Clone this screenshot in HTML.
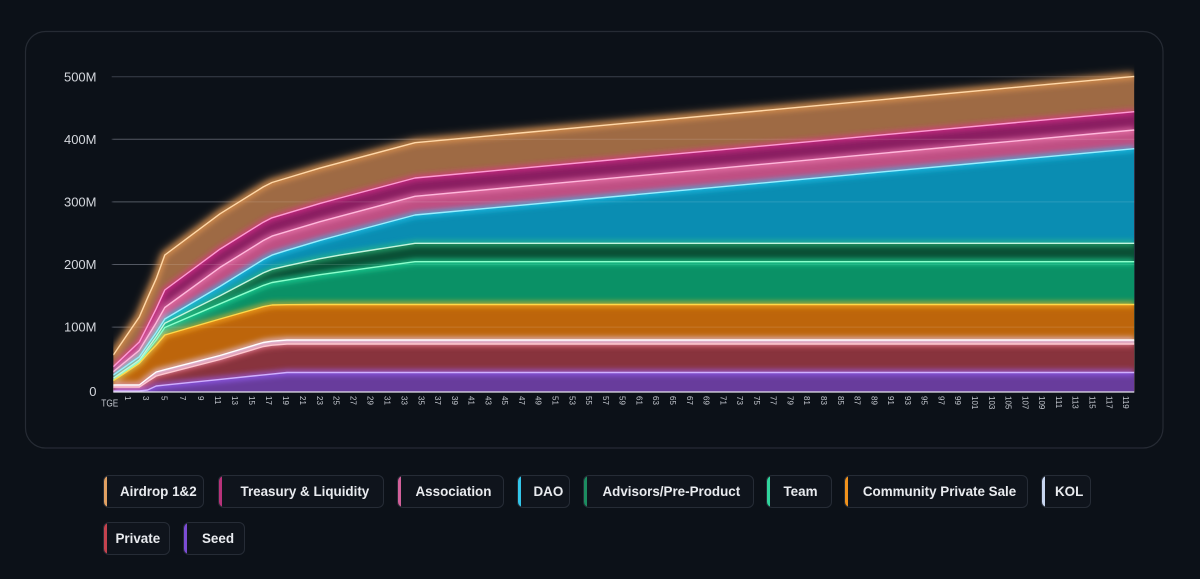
<!DOCTYPE html>
<html>
<head>
<meta charset="utf-8">
<style>
  html,body{margin:0;padding:0;}
  body{width:1200px;height:579px;background:#0c1118;position:relative;overflow:hidden;font-family:"Liberation Sans",Arial,sans-serif;}
  .chip{position:absolute;height:33px;box-sizing:border-box;border:1px solid #262c36;border-radius:6px;background:#0f141c;overflow:hidden;}
  .chip .bar{position:absolute;left:0;top:0;bottom:0;width:3px;}
  .chip span{position:absolute;top:0;line-height:31px;font-size:13.4px;font-weight:bold;color:#e9ebef;white-space:nowrap;}
</style>
</head>
<body>
<svg width="1200" height="579" viewBox="0 0 1200 579" style="position:absolute;left:0;top:0" xmlns="http://www.w3.org/2000/svg">
  <defs>
    <filter id="glow" filterUnits="userSpaceOnUse" x="0" y="0" width="1200" height="579">
      <feGaussianBlur stdDeviation="3"/>
    </filter>
    <filter id="glow2" filterUnits="userSpaceOnUse" x="0" y="0" width="1200" height="579">
      <feGaussianBlur stdDeviation="4.5"/>
    </filter>
    <clipPath id="clip"><rect x="113.3" y="30" width="1021" height="362"/></clipPath>
  </defs>

  <!-- frame -->
  <rect x="25.5" y="31.5" width="1137.5" height="416.5" rx="20" ry="20" fill="#0c1118" stroke="#262b34" stroke-width="1.2"/>

  <!-- y labels -->
  <g font-family="Liberation Sans, Arial, sans-serif" font-size="13" fill="#d4d7dd" text-anchor="end">
    <text x="96.5" y="81.3">500M</text>
    <text x="96.5" y="143.9">400M</text>
    <text x="96.5" y="206.5">300M</text>
    <text x="96.5" y="269.1">200M</text>
    <text x="96.5" y="331.7">100M</text>
    <text x="96.5" y="396">0</text>
  </g>

  <!-- gridlines under -->
  <g stroke="#3a404b" stroke-width="1">
    <line x1="111.7" y1="76.7" x2="1134.3" y2="76.7"/>
    <line x1="111.7" y1="139.3" x2="1134.3" y2="139.3"/>
    <line x1="111.7" y1="201.9" x2="1134.3" y2="201.9"/>
    <line x1="111.7" y1="264.5" x2="1134.3" y2="264.5"/>
    <line x1="111.7" y1="327.1" x2="1134.3" y2="327.1"/>
  </g>

  <!-- outer glow of top -->
  <g clip-path="url(#clip)">
    <polyline filter="url(#glow2)" fill="none" stroke="#e8a060" stroke-opacity="0.75" stroke-width="7" points="113.3,355 139.3,317 147.6,297.8 156.2,278.7 164.8,255 220,213.8 263.3,186.9 272,182.5 287,178 320,168.1 340,162.7 415,142.7 1134.3,76.4"/>
  </g>

  <g clip-path="url(#clip)">
    <!-- Airdrop -->
    <polygon fill="#9e6a44" points="113.3,355 139.3,317 147.6,297.8 156.2,278.7 164.8,255 220,213.8 263.3,186.9 272,182.5 287,178 320,168.1 340,162.7 415,142.7 1134.3,76.4 1134.3,391.5 113.3,391.5"/>
    <!-- Treasury -->
    <polygon fill="#8a1e61" points="113.3,366.7 139.3,342 147.6,325.8 156.2,308.7 164.8,290 220,249.1 263.3,222.2 272,217.8 287,213.3 320,203.4 340,198 415,178 1134.3,111.7 1134.3,391.5 113.3,391.5"/>
    <!-- Association -->
    <polygon fill="#bf4f83" points="113.3,371.7 139.3,350.3 147.6,336.8 156.2,322.7 164.8,307.5 220,267.4 263.3,240.5 272,236.1 287,231.6 320,221.7 340,216.3 415,196.3 1134.3,130 1134.3,391.5 113.3,391.5"/>
    <!-- DAO -->
    <polygon fill="#0a8db2" points="113.3,375 139.3,356.8 147.6,344.8 156.2,332.5 164.8,319 220,286.4 263.3,259.5 272,255.1 287,250.3 320,240.4 340,235 415,215 1134.3,148.7 1134.3,391.5 113.3,391.5"/>
    <!-- Advisors -->
    <polygon fill="#0a4f35" points="113.3,378.3 139.3,360.1 147.6,348.5 156.2,336.5 164.8,323.3 220,295.8 263.3,272.9 272,269.3 287,265.8 320,258.7 340,255.1 415,243.3 1134.3,243.3 1134.3,391.5 113.3,391.5"/>
    <!-- Team -->
    <polygon fill="#0a9166" points="113.3,380 139.3,361.7 147.6,351 156.2,340 164.8,327.5 220,303.8 263.3,285.4 272,282.5 287,280.1 320,274.7 340,271.9 415,261.7 1134.3,261.7 1134.3,391.5 113.3,391.5"/>
    <!-- CPS -->
    <polygon fill="#bd650b" points="113.3,380.7 139.3,363.3 147.6,354 156.2,345 164.8,335 220,319 263.3,306.7 272,305 287,304.7 320,304.5 340,304.5 415,304.5 1134.3,304.5 1134.3,391.5 113.3,391.5"/>
    <!-- KOL -->
    <polygon fill="#d6c2d2" points="113.3,385 139.3,385 147.6,378.5 156.2,372 164.8,369.7 220,355.5 263.3,342.5 272,341.2 287,340 320,340 340,340 415,340 1134.3,340 1134.3,391.5 113.3,391.5"/>
    <!-- Private -->
    <polygon fill="#88333d" points="113.3,387 139.3,387 147.6,381.5 156.2,376 164.8,373.7 220,359.5 263.3,346.5 272,345.2 287,344 320,344 340,344 415,344 1134.3,344 1134.3,391.5 113.3,391.5"/>
    <!-- Seed -->
    <polygon fill="#683c9c" points="113.3,391 139.3,391 147.6,390 156.2,386 164.8,385.1 220,379.4 263.3,374.9 272,374.1 287,372.5 320,372.5 340,372.5 415,372.5 1134.3,372.5 1134.3,391.5 113.3,391.5"/>

    <!-- gridlines through areas -->
    <g stroke="#ffffff" stroke-opacity="0.13" stroke-width="1">
      <line x1="111.7" y1="139.3" x2="1134.3" y2="139.3"/>
      <line x1="111.7" y1="201.9" x2="1134.3" y2="201.9"/>
      <line x1="111.7" y1="264.5" x2="1134.3" y2="264.5"/>
      <line x1="111.7" y1="327.1" x2="1134.3" y2="327.1"/>
    </g>

    <!-- glows -->
    <g filter="url(#glow)" fill="none" stroke-width="5" stroke-opacity="0.8" stroke-linejoin="round">
      <polyline stroke="#e89a50" points="113.3,355 139.3,317 147.6,297.8 156.2,278.7 164.8,255 220,213.8 263.3,186.9 272,182.5 287,178 320,168.1 340,162.7 415,142.7 1134.3,76.4"/>
      <polyline stroke="#e0308e" points="113.3,366.7 139.3,342 147.6,325.8 156.2,308.7 164.8,290 220,249.1 263.3,222.2 272,217.8 287,213.3 320,203.4 340,198 415,178 1134.3,111.7"/>
      <polyline stroke="#f07ab0" points="113.3,371.7 139.3,350.3 147.6,336.8 156.2,322.7 164.8,307.5 220,267.4 263.3,240.5 272,236.1 287,231.6 320,221.7 340,216.3 415,196.3 1134.3,130"/>
      <polyline stroke="#20c8f0" points="113.3,375 139.3,356.8 147.6,344.8 156.2,332.5 164.8,319 220,286.4 263.3,259.5 272,255.1 287,250.3 320,240.4 340,235 415,215 1134.3,148.7"/>
      <polyline stroke="#30c080" points="113.3,378.3 139.3,360.1 147.6,348.5 156.2,336.5 164.8,323.3 220,295.8 263.3,272.9 272,269.3 287,265.8 320,258.7 340,255.1 415,243.3 1134.3,243.3"/>
      <polyline stroke="#20e0a0" points="113.3,380 139.3,361.7 147.6,351 156.2,340 164.8,327.5 220,303.8 263.3,285.4 272,282.5 287,280.1 320,274.7 340,271.9 415,261.7 1134.3,261.7"/>
      <polyline stroke="#ffb020" points="113.3,380.7 139.3,363.3 147.6,354 156.2,345 164.8,335 220,319 263.3,306.7 272,305 287,304.7 320,304.5 340,304.5 415,304.5 1134.3,304.5"/>
      <polyline stroke="#e8d8ff" points="113.3,385 139.3,385 147.6,378.5 156.2,372 164.8,369.7 220,355.5 263.3,342.5 272,341.2 287,340 320,340 340,340 415,340 1134.3,340"/>
      <polyline stroke="#e06070" points="113.3,387 139.3,387 147.6,381.5 156.2,376 164.8,373.7 220,359.5 263.3,346.5 272,345.2 287,344 320,344 340,344 415,344 1134.3,344"/>
      <polyline stroke="#9a60ff" points="113.3,391 139.3,391 147.6,390 156.2,386 164.8,385.1 220,379.4 263.3,374.9 272,374.1 287,372.5 320,372.5 340,372.5 415,372.5 1134.3,372.5"/>
    </g>

    <!-- thin lines -->
    <g fill="none" stroke-width="1.4" stroke-linejoin="round">
      <polyline stroke="#ffd8a8" points="113.3,355 139.3,317 147.6,297.8 156.2,278.7 164.8,255 220,213.8 263.3,186.9 272,182.5 287,178 320,168.1 340,162.7 415,142.7 1134.3,76.4"/>
      <polyline stroke="#ff9ad4" points="113.3,366.7 139.3,342 147.6,325.8 156.2,308.7 164.8,290 220,249.1 263.3,222.2 272,217.8 287,213.3 320,203.4 340,198 415,178 1134.3,111.7"/>
      <polyline stroke="#ffb8dc" points="113.3,371.7 139.3,350.3 147.6,336.8 156.2,322.7 164.8,307.5 220,267.4 263.3,240.5 272,236.1 287,231.6 320,221.7 340,216.3 415,196.3 1134.3,130"/>
      <polyline stroke="#9aeeff" points="113.3,375 139.3,356.8 147.6,344.8 156.2,332.5 164.8,319 220,286.4 263.3,259.5 272,255.1 287,250.3 320,240.4 340,235 415,215 1134.3,148.7"/>
      <polyline stroke="#c4f5de" points="113.3,378.3 139.3,360.1 147.6,348.5 156.2,336.5 164.8,323.3 220,295.8 263.3,272.9 272,269.3 287,265.8 320,258.7 340,255.1 415,243.3 1134.3,243.3"/>
      <polyline stroke="#8cffcc" points="113.3,380 139.3,361.7 147.6,351 156.2,340 164.8,327.5 220,303.8 263.3,285.4 272,282.5 287,280.1 320,274.7 340,271.9 415,261.7 1134.3,261.7"/>
      <polyline stroke="#ffd84a" points="113.3,380.7 139.3,363.3 147.6,354 156.2,345 164.8,335 220,319 263.3,306.7 272,305 287,304.7 320,304.5 340,304.5 415,304.5 1134.3,304.5"/>
      <polyline stroke="#ffffff" points="113.3,385 139.3,385 147.6,378.5 156.2,372 164.8,369.7 220,355.5 263.3,342.5 272,341.2 287,340 320,340 340,340 415,340 1134.3,340"/>
      <polyline stroke="#ffc8d0" points="113.3,387 139.3,387 147.6,381.5 156.2,376 164.8,373.7 220,359.5 263.3,346.5 272,345.2 287,344 320,344 340,344 415,344 1134.3,344"/>
      <polyline stroke="#d0b0ff" points="113.3,391 139.3,391 147.6,390 156.2,386 164.8,385.1 220,379.4 263.3,374.9 272,374.1 287,372.5 320,372.5 340,372.5 415,372.5 1134.3,372.5"/>
    </g>
  </g>

  <!-- x axis line -->
  <line x1="113.3" y1="392" x2="1134.3" y2="392" stroke="#e4e4ec" stroke-width="1.2"/>

  <!-- x labels -->
  <text x="118.3" y="406.5" font-family="Liberation Sans, Arial, sans-serif" font-size="10" fill="#c4c8cf" text-anchor="end" textLength="17" lengthAdjust="spacingAndGlyphs">TGE</text>
  <g font-family="Liberation Sans, Arial, sans-serif" font-size="8" fill="#c4c8cf" dominant-baseline="central">
    <text transform="translate(127.3,396) rotate(90)">1</text>
    <text transform="translate(145.6,396) rotate(90)">3</text>
    <text transform="translate(164.0,396) rotate(90)">5</text>
    <text transform="translate(182.5,396) rotate(90)">7</text>
    <text transform="translate(200.7,396) rotate(90)">9</text>
    <text transform="translate(217.6,396) rotate(90)">11</text>
    <text transform="translate(234.6,396) rotate(90)">13</text>
    <text transform="translate(251.5,396) rotate(90)">15</text>
    <text transform="translate(268.5,396) rotate(90)">17</text>
    <text transform="translate(285.4,396) rotate(90)">19</text>
    <text transform="translate(302.3,396) rotate(90)">21</text>
    <text transform="translate(319.3,396) rotate(90)">23</text>
    <text transform="translate(336.2,396) rotate(90)">25</text>
    <text transform="translate(353.2,396) rotate(90)">27</text>
    <text transform="translate(370.1,396) rotate(90)">29</text>
    <text transform="translate(387.0,396) rotate(90)">31</text>
    <text transform="translate(404.0,396) rotate(90)">33</text>
    <text transform="translate(420.8,396) rotate(90)">35</text>
    <text transform="translate(437.6,396) rotate(90)">37</text>
    <text transform="translate(454.3,396) rotate(90)">39</text>
    <text transform="translate(471.1,396) rotate(90)">41</text>
    <text transform="translate(487.9,396) rotate(90)">43</text>
    <text transform="translate(504.7,396) rotate(90)">45</text>
    <text transform="translate(521.5,396) rotate(90)">47</text>
    <text transform="translate(538.2,396) rotate(90)">49</text>
    <text transform="translate(555.0,396) rotate(90)">51</text>
    <text transform="translate(571.8,396) rotate(90)">53</text>
    <text transform="translate(588.6,396) rotate(90)">55</text>
    <text transform="translate(605.4,396) rotate(90)">57</text>
    <text transform="translate(622.1,396) rotate(90)">59</text>
    <text transform="translate(638.9,396) rotate(90)">61</text>
    <text transform="translate(655.7,396) rotate(90)">63</text>
    <text transform="translate(672.5,396) rotate(90)">65</text>
    <text transform="translate(689.3,396) rotate(90)">67</text>
    <text transform="translate(706.0,396) rotate(90)">69</text>
    <text transform="translate(722.8,396) rotate(90)">71</text>
    <text transform="translate(739.6,396) rotate(90)">73</text>
    <text transform="translate(756.4,396) rotate(90)">75</text>
    <text transform="translate(773.2,396) rotate(90)">77</text>
    <text transform="translate(789.9,396) rotate(90)">79</text>
    <text transform="translate(806.7,396) rotate(90)">81</text>
    <text transform="translate(823.5,396) rotate(90)">83</text>
    <text transform="translate(840.3,396) rotate(90)">85</text>
    <text transform="translate(857.1,396) rotate(90)">87</text>
    <text transform="translate(873.8,396) rotate(90)">89</text>
    <text transform="translate(890.6,396) rotate(90)">91</text>
    <text transform="translate(907.4,396) rotate(90)">93</text>
    <text transform="translate(924.2,396) rotate(90)">95</text>
    <text transform="translate(941.0,396) rotate(90)">97</text>
    <text transform="translate(957.7,396) rotate(90)">99</text>
    <text transform="translate(974.5,396) rotate(90)">101</text>
    <text transform="translate(991.3,396) rotate(90)">103</text>
    <text transform="translate(1008.1,396) rotate(90)">105</text>
    <text transform="translate(1024.9,396) rotate(90)">107</text>
    <text transform="translate(1041.6,396) rotate(90)">109</text>
    <text transform="translate(1058.4,396) rotate(90)">111</text>
    <text transform="translate(1075.2,396) rotate(90)">113</text>
    <text transform="translate(1092.0,396) rotate(90)">115</text>
    <text transform="translate(1108.8,396) rotate(90)">117</text>
    <text transform="translate(1125.5,396) rotate(90)">119</text>
  </g>
</svg>

<!-- legend row 1 -->
<div class="chip" style="left:103px;top:475px;width:101px;"><div class="bar" style="background:#e0a062"></div><span style="left:16px">Airdrop 1&amp;2</span></div>
<div class="chip" style="left:217.5px;top:475px;width:166px;"><div class="bar" style="background:#b8327a"></div><span style="left:22px">Treasury &amp; Liquidity</span></div>
<div class="chip" style="left:397px;top:475px;width:107px;"><div class="bar" style="background:#d2609a"></div><span style="left:17.5px">Association</span></div>
<div class="chip" style="left:517px;top:475px;width:53px;"><div class="bar" style="background:#32c6ea"></div><span style="left:15.5px">DAO</span></div>
<div class="chip" style="left:583px;top:475px;width:170.5px;"><div class="bar" style="background:#1c8c60"></div><span style="left:18.5px">Advisors/Pre-Product</span></div>
<div class="chip" style="left:766px;top:475px;width:66px;"><div class="bar" style="background:#30d49c"></div><span style="left:16.5px">Team</span></div>
<div class="chip" style="left:844.4px;top:475px;width:184px;"><div class="bar" style="background:#f0921c"></div><span style="left:17.5px">Community Private Sale</span></div>
<div class="chip" style="left:1041px;top:475px;width:50.3px;"><div class="bar" style="background:#c8d6f0"></div><span style="left:13px">KOL</span></div>
<!-- legend row 2 -->
<div class="chip" style="left:103px;top:521.5px;width:67.4px;"><div class="bar" style="background:#c4424e"></div><span style="left:11.5px">Private</span></div>
<div class="chip" style="left:183px;top:521.5px;width:62.4px;"><div class="bar" style="background:#7c4cd4"></div><span style="left:18px">Seed</span></div>
</body>
</html>
